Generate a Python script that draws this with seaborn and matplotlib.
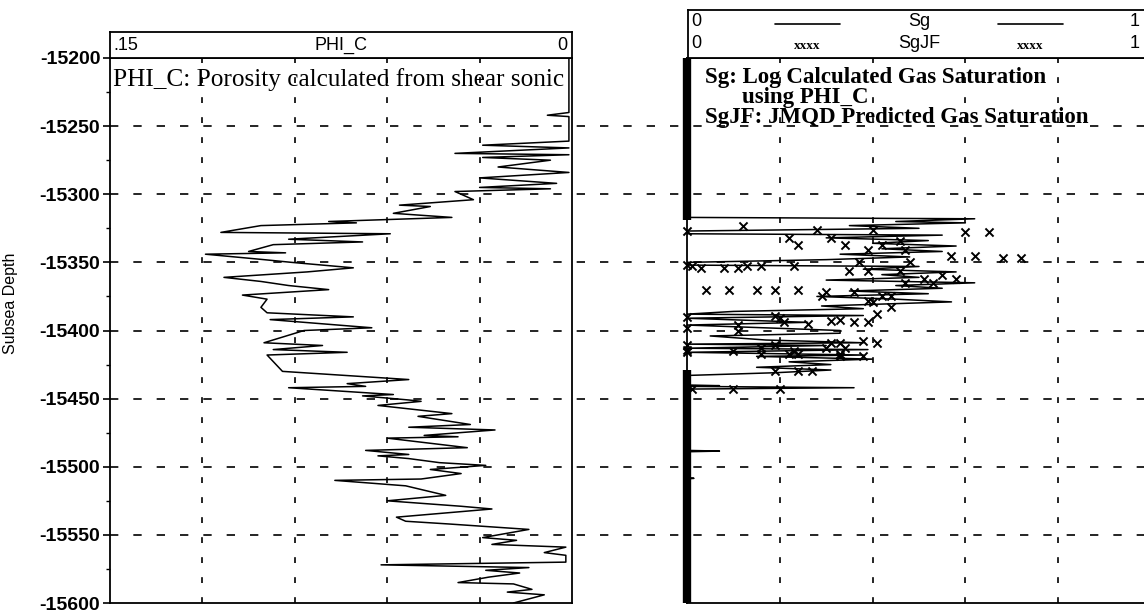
import pandas as pd
import seaborn as sns
import matplotlib.pyplot as plt
from matplotlib.ticker import MultipleLocator

# PHI_C log (porosity from shear sonic), track 1
phi_depth = [-15200, -15240, -15242, -15243, -15261, -15264, -15266, -15270, -15271, -15273,
             -15275, -15280, -15284, -15288, -15292, -15295, -15296, -15298, -15304, -15308,
             -15309, -15314, -15317, -15320, -15321, -15323, -15328, -15329, -15333, -15335,
             -15337, -15342, -15343, -15344, -15348, -15350, -15354, -15357, -15361, -15364,
             -15367, -15370, -15374, -15377, -15383, -15387, -15390, -15392, -15398, -15400,
             -15409, -15411, -15414, -15416, -15418, -15430, -15436, -15439, -15441, -15442,
             -15447, -15448, -15451, -15452, -15455, -15461, -15463, -15469, -15471, -15473,
             -15477, -15478, -15479, -15486, -15488, -15491, -15492, -15494, -15497, -15499,
             -15502, -15505, -15509, -15510, -15514, -15521, -15525, -15529, -15531, -15537,
             -15540, -15542, -15546, -15552, -15554, -15557, -15559, -15563, -15565, -15570,
             -15572, -15574, -15576, -15578, -15581, -15585, -15586, -15590, -15592, -15594,
             -15600]
phi_c = [0.001, 0.001, 0.008, 0.001, 0.001, 0.029, 0.001, 0.038, 0.001, 0.029,
         0.007, 0.024, 0.001, 0.030, 0.005, 0.030, 0.007, 0.038, 0.032, 0.056,
         0.046, 0.058, 0.039, 0.079, 0.070, 0.101, 0.114, 0.059, 0.092, 0.068,
         0.097, 0.105, 0.093, 0.119, 0.100, 0.091, 0.071, 0.086, 0.113, 0.101,
         0.092, 0.079, 0.107, 0.099, 0.101, 0.099, 0.071, 0.098, 0.065, 0.087,
         0.100, 0.081, 0.097, 0.073, 0.099, 0.094, 0.053, 0.073, 0.067, 0.092,
         0.058, 0.068, 0.053, 0.049, 0.063, 0.039, 0.050, 0.033, 0.053, 0.025,
         0.048, 0.037, 0.060, 0.034, 0.067, 0.053, 0.063, 0.053, 0.043, 0.028,
         0.046, 0.036, 0.049, 0.077, 0.054, 0.041, 0.060, 0.036, 0.026, 0.057,
         0.054, 0.040, 0.014, 0.029, 0.018, 0.026, 0.002, 0.009, 0.002, 0.002,
         0.062, 0.014, 0.028, 0.017, 0.027, 0.037, 0.019, 0.013, 0.021, 0.009,
         0.019]

# Sg, log calculated gas saturation, track 2
sg_depth = [-15200, -15317, -15318, -15320, -15321, -15323, -15325, -15327, -15329, -15330,
            -15332, -15334, -15336, -15338, -15340, -15342, -15344, -15346, -15348, -15350,
            -15352, -15353, -15355, -15357, -15359, -15361, -15363, -15365, -15367, -15369,
            -15371, -15373, -15375, -15377, -15379, -15382, -15384, -15386, -15388, -15389,
            -15391, -15394, -15396, -15400, -15402, -15404, -15407, -15409, -15410, -15411,
            -15413, -15414, -15416, -15418, -15419, -15421, -15423, -15425, -15427, -15429,
            -15431, -15433, -15440, -15440.5, -15441, -15442, -15443, -15488, -15488.5, -15489,
            -15508, -15508.5, -15509, -15600]
sg = [0.0, 0.0, 0.62, 0.45, 0.60, 0.35, 0.50, 0.0, 0.0, 0.55,
      0.30, 0.52, 0.40, 0.58, 0.42, 0.55, 0.33, 0.48, 0.30, 0.0,
      0.0, 0.50, 0.38, 0.58, 0.42, 0.50, 0.30, 0.62, 0.45, 0.55,
      0.35, 0.52, 0.28, 0.45, 0.57, 0.29, 0.38, 0.10, 0.0, 0.38,
      0.0, 0.26, 0.0, 0.33, 0.33, 0.05, 0.17, 0.38, 0.0, 0.30,
      0.0, 0.39, 0.0, 0.38, 0.15, 0.40, 0.22, 0.31, 0.15, 0.31,
      0.19, 0.0, 0.0, 0.07, 0.0, 0.36, 0.0, 0.0, 0.07, 0.0,
      0.0, 0.015, 0.0, 0.0]

# SgJF, JMQD predicted gas saturation (points off zero)
sgjf_depth = [-15323, -15326, -15326, -15328, -15328, -15327, -15332, -15332, -15334, -15337,
              -15337, -15337, -15341, -15341, -15345, -15345, -15347, -15347, -15350, -15350,
              -15353, -15353, -15353, -15353, -15352, -15354, -15354, -15354, -15356, -15356,
              -15356, -15359, -15362, -15362, -15365, -15365, -15370, -15370, -15370, -15370,
              -15370, -15372, -15372, -15375, -15375, -15375, -15378, -15379, -15383, -15388,
              -15389, -15391, -15390, -15398, -15394, -15395, -15393, -15392, -15394, -15394,
              -15396, -15400, -15409, -15409, -15408, -15409, -15411, -15413, -15413, -15413,
              -15417, -15419, -15411, -15414, -15416, -15415, -15417, -15415, -15417, -15417,
              -15419, -15430, -15430, -15430, -15443, -15443, -15443]
sgjf = [0.12, 0.28, 0.40, 0.60, 0.65, 0.0, 0.22, 0.31, 0.46, 0.24,
        0.34, 0.42, 0.39, 0.47, 0.57, 0.62, 0.68, 0.72, 0.37, 0.48,
        0.01, 0.13, 0.16, 0.23, 0.0, 0.03, 0.08, 0.11, 0.35, 0.39,
        0.46, 0.55, 0.51, 0.58, 0.47, 0.53, 0.04, 0.09, 0.15, 0.19,
        0.24, 0.30, 0.36, 0.29, 0.42, 0.44, 0.39, 0.40, 0.44, 0.41,
        0.19, 0.20, 0.0, 0.0, 0.21, 0.26, 0.31, 0.33, 0.36, 0.39,
        0.11, 0.11, 0.31, 0.33, 0.38, 0.41, 0.19, 0.16, 0.30, 0.34,
        0.33, 0.33, 0.0, 0.0, 0.0, 0.10, 0.16, 0.23, 0.22, 0.24,
        0.38, 0.19, 0.24, 0.27, 0.01, 0.10, 0.20]
# depth runs where SgJF sits at zero on every sample (dense markers form a solid bar)
sgjf_zero_runs = [(-15200, -15319), (-15429, -15600)]

depth_ticks = [-15200, -15250, -15300, -15350, -15400, -15450, -15500, -15550, -15600]
phi_grid = [0.03, 0.06, 0.09, 0.12]
sat_grid = [0.2, 0.4, 0.6, 0.8]

W, H = 1144, 614


def box(left, top, width, height):
    # pixel box -> figure fraction
    return [left / W, 1 - (top + height) / H, width / W, height / H]


sns.set_style("white")
plt.rcParams["font.family"] = ["Liberation Sans", "DejaVu Sans"]
plt.rcParams["axes.unicode_minus"] = False
plt.rcParams["text.color"] = "black"
plt.rcParams["axes.labelcolor"] = "black"
plt.rcParams["ytick.color"] = "black"

phi_df = pd.DataFrame({"depth": phi_depth, "PHI_C": phi_c})
sg_df = pd.DataFrame({"depth": sg_depth, "Sg": sg})
sgjf_df = pd.DataFrame({"depth": sgjf_depth, "SgJF": sgjf})

fig = plt.figure(figsize=(W / 100, H / 100), dpi=100)
hgrid_kw = dict(color="black", lw=1.2, ls=(0, (5, 9)))
vgrid_kw = dict(color="black", lw=1.2, ls=(0, (3.5, 8.5)))
serif = ["Liberation Serif", "DejaVu Serif"]

# horizontal depth grid runs across both tracks and the gap
ax_bg = fig.add_axes(box(110, 58, 1041, 545))
ax_bg.set_xlim(0, 1)
ax_bg.set_ylim(-15600, -15200)
ax_bg.axis("off")
for d in depth_ticks[1:-1]:
    ax_bg.axhline(d, **hgrid_kw)

# track 1: PHI_C
ax1 = fig.add_axes(box(110, 58, 462, 545))
ax1.patch.set_visible(False)
sns.lineplot(data=phi_df, x="PHI_C", y="depth", orient="y", sort=False, estimator=None,
             color="black", lw=1.1, ax=ax1)
ax1.set_xlim(0.15, 0)
ax1.set_ylim(-15600, -15200)
for v in phi_grid:
    ax1.axvline(v, **vgrid_kw)
ax1.set_xticks([])
ax1.set_xlabel("")
ax1.set_yticks(depth_ticks)
ax1.yaxis.set_minor_locator(MultipleLocator(25))
ax1.tick_params(axis="y", which="major", left=True, direction="out", length=5, width=1.2,
                labelsize=14, pad=2)
ax1.tick_params(axis="y", which="minor", left=True, direction="out", length=3, width=1)
for lab in ax1.get_yticklabels():
    lab.set_fontweight("bold")
ax1.set_ylabel("Subsea Depth", fontsize=11.5)
ax1.yaxis.set_label_coords(-0.2, 0.55)
for sp in ax1.spines.values():
    sp.set_color("black")
    sp.set_linewidth(1.3)

hd1 = fig.add_axes(box(110, 32, 462, 26))
hd1.set_xticks([])
hd1.set_yticks([])
for sp in hd1.spines.values():
    sp.set_color("black")
    sp.set_linewidth(1.3)
hd1.text(0.008, 0.5, ".15", ha="left", va="center", fontsize=13, transform=hd1.transAxes)
hd1.text(0.5, 0.5, "PHI_C", ha="center", va="center", fontsize=13, transform=hd1.transAxes)
hd1.text(0.99, 0.5, "0", ha="right", va="center", fontsize=13, transform=hd1.transAxes)

fig.text(113 / W, 1 - 80 / H, "PHI_C: Porosity calculated from shear sonic",
         family=serif, fontsize=18.2, ha="left", va="center")

# track 2: Sg and SgJF
ax2 = fig.add_axes(box(687, 58, 464, 545))
ax2.patch.set_visible(False)
for v in sat_grid:
    ax2.axvline(v, **vgrid_kw)
sns.lineplot(data=sg_df, x="Sg", y="depth", orient="y", sort=False, estimator=None,
             color="black", lw=1.1, ax=ax2)
sns.scatterplot(data=sgjf_df, x="SgJF", y="depth", marker="x", color="black", s=34,
                linewidth=1.4, clip_on=False, ax=ax2)
for top, bottom in sgjf_zero_runs:
    ax2.vlines(0, bottom, top, colors="black", lw=6, clip_on=False)
ax2.set_xlim(0, 1)
ax2.set_ylim(-15600, -15200)
ax2.set_xticks([])
ax2.set_yticks([])
ax2.set_xlabel("")
ax2.set_ylabel("")
for sp in ax2.spines.values():
    sp.set_color("black")
    sp.set_linewidth(1.3)

hd2 = fig.add_axes(box(688, 10, 463, 48))
hd2.set_xlim(0, 1)
hd2.set_ylim(0, 1)
hd2.set_xticks([])
hd2.set_yticks([])
for sp in hd2.spines.values():
    sp.set_color("black")
    sp.set_linewidth(1.3)
for yrow, name, sample in [(0.76, "Sg", None), (0.3, "SgJF", "xxxx")]:
    hd2.text(0.008, yrow, "0", ha="left", va="center", fontsize=13)
    hd2.text(0.965, yrow, "1", ha="center", va="center", fontsize=13)
    hd2.text(0.499, yrow, name, ha="center", va="center", fontsize=13)
    if sample is None:
        hd2.plot([0.188, 0.328], [yrow - 0.05, yrow - 0.05], color="black", lw=1.2)
        hd2.plot([0.67, 0.81], [yrow - 0.05, yrow - 0.05], color="black", lw=1.2)
    else:
        hd2.text(0.258, yrow - 0.05, sample, ha="center", va="center", fontsize=9.5,
                 family=serif, weight="bold")
        hd2.text(0.74, yrow - 0.05, sample, ha="center", va="center", fontsize=9.5,
                 family=serif, weight="bold")

fig.text(705 / W, 1 - 78 / H, "Sg: Log Calculated Gas Saturation",
         family=serif, weight="bold", fontsize=16.5, ha="left", va="center")
fig.text(742 / W, 1 - 98 / H, "using PHI_C",
         family=serif, weight="bold", fontsize=16.5, ha="left", va="center")
fig.text(705 / W, 1 - 118 / H, "SgJF: JMQD Predicted Gas Saturation",
         family=serif, weight="bold", fontsize=16.5, ha="left", va="center")

fig.savefig("out.png", dpi=100)
